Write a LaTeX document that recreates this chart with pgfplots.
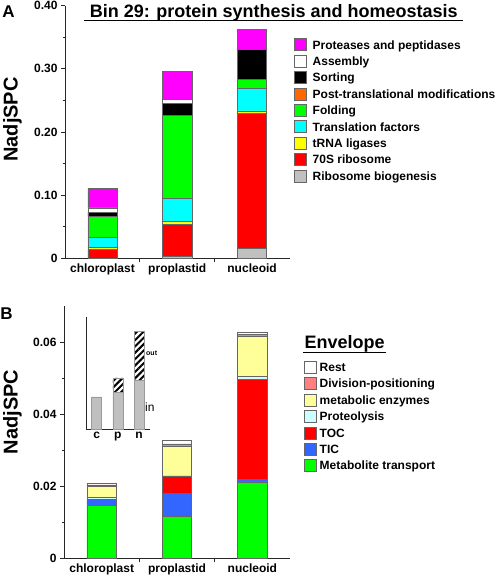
\documentclass[border=0pt]{standalone}
\usepackage{fontspec}
\setmainfont{Liberation Sans}
\usepackage{pgfplots}
\pgfplotsset{compat=1.18}
\usetikzlibrary{patterns.meta}

\definecolor{cMag}{HTML}{FF00FF}
\definecolor{cOra}{HTML}{FF6600}
\definecolor{cGre}{HTML}{00FF00}
\definecolor{cCya}{HTML}{00FFFF}
\definecolor{cYel}{HTML}{FFFF00}
\definecolor{cRed}{HTML}{FF0000}
\definecolor{cGra}{HTML}{C0C0C0}
\definecolor{cSal}{HTML}{FF8080}
\definecolor{cLYe}{HTML}{FFFF99}
\definecolor{cLCy}{HTML}{CCFFFF}
\definecolor{cBlu}{HTML}{3366FF}

% Panel A: columns = x, then stack bottom -> top
\pgfplotstableread{
x bio rib trna tf fold ptm sort asm prot
0 0.0000 0.0147 0.0021 0.0158 0.0334 0.0008 0.0060 0.0072 0.0306
1 0.0030 0.0508 0.0047 0.0364 0.1318 0.0000 0.0186 0.0063 0.0448
2 0.0158 0.2136 0.0041 0.0355 0.0147 0.0000 0.0473 0.0003 0.0313
}\tableA

% Panel B
\pgfplotstableread{
x met tic toc prot enz div rest
0 0.0148 0.0015 0.0000 0.0006 0.0031 0.0004 0.0004
1 0.0116 0.0064 0.0049 0.0000 0.0081 0.0008 0.0010
2 0.0212 0.0007 0.0278 0.0009 0.0110 0.0005 0.0007
}\tableB

% Inset
\pgfplotstableread{
x in out
0 0.0208 0.0000
1 0.0234 0.0095
2 0.0315 0.0313
}\tableC

\pgfplotsset{
  panel/.style={
    scale only axis, anchor=south west,
    xmin=-0.5, xmax=2.5, ymin=0,
    scaled y ticks=false,
    axis x line*=bottom, axis y line*=left,
    axis line style={-, line width=1pt, black!85},
    ybar stacked, bar width=0.39,
    xtick={0.5,1.5}, xticklabels={},
    extra x ticks={0,1,2},
    extra x tick labels={chloroplast,proplastid,nucleoid},
    extra x tick style={major tick length=0pt},
    tick align=outside, major tick length=4pt, minor tick length=2.5pt,
    tick style={black!85, line width=0.8pt},
    minor y tick num=1,
    ticklabel style={font=\bfseries\fontsize{12}{14}\selectfont},
    xticklabel style={yshift=-2pt},
    every axis plot/.append style={draw=black!60, line width=0.5pt},
    legend image code/.code={\draw[#1,draw=black!60,line width=0.5pt] (0pt,-6pt) rectangle (12pt,6pt);},
    reverse legend,
    legend cell align=left,
  },
}

\begin{document}
\begin{tikzpicture}
\useasboundingbox (0,0) rectangle (498pt,577pt);

% ---------------- Panel A ----------------
\begin{axis}[panel,
  at={(65pt,318.7pt)}, width=224.5pt, height=252.6pt,
  ymax=0.40,
  ytick={0,0.1,0.2,0.3,0.4},
  yticklabels={0,0.10,0.20,0.30,0.40},
  legend style={at={(1.02,0.871)}, anchor=north west, draw=none, fill=none,
    inner sep=0pt, row sep=3.9pt, column sep=6pt,
    font=\bfseries\fontsize{12}{14}\selectfont,
    nodes={inner sep=0pt, text height=8.6pt, text depth=0pt}},
]
\addplot[fill=cGra] table[x=x,y=bio] {\tableA};
\addplot[fill=cRed] table[x=x,y=rib] {\tableA};
\addplot[fill=cYel] table[x=x,y=trna] {\tableA};
\addplot[fill=cCya] table[x=x,y=tf] {\tableA};
\addplot[fill=cGre] table[x=x,y=fold] {\tableA};
\addplot[fill=cOra] table[x=x,y=ptm] {\tableA};
\addplot[fill=black] table[x=x,y=sort] {\tableA};
\addplot[fill=white] table[x=x,y=asm] {\tableA};
\addplot[fill=cMag] table[x=x,y=prot] {\tableA};
\legend{Ribosome biogenesis,70S ribosome,tRNA ligases,Translation factors,Folding,Post-translational modifications,Sorting,Assembly,Proteases and peptidases}
\end{axis}

% ---------------- Panel B ----------------
\begin{axis}[panel,
  at={(64pt,18.7pt)}, width=226pt, height=252pt,
  ymax=0.07,
  ytick={0,0.02,0.04,0.06},
  yticklabels={0,0.02,0.04,0.06},
  legend style={at={(1.062,0.784)}, anchor=north west, draw=none, fill=none,
    inner sep=0pt, row sep=3.9pt, column sep=3pt,
    font=\bfseries\fontsize{12}{14}\selectfont,
    nodes={inner sep=0pt, text height=8.6pt, text depth=0pt}},
]
\addplot[fill=cGre] table[x=x,y=met] {\tableB};
\addplot[fill=cBlu] table[x=x,y=tic] {\tableB};
\addplot[fill=cRed] table[x=x,y=toc] {\tableB};
\addplot[fill=cLCy] table[x=x,y=prot] {\tableB};
\addplot[fill=cLYe] table[x=x,y=enz] {\tableB};
\addplot[fill=cSal] table[x=x,y=div] {\tableB};
\addplot[fill=white] table[x=x,y=rest] {\tableB};
\legend{Metabolite transport,TIC,TOC,Proteolysis,metabolic enzymes,Division-positioning,Rest}
\end{axis}

% ---------------- Inset ----------------
\begin{axis}[
  scale only axis, anchor=south west, clip=false,
  at={(86pt,147.7pt)}, width=63.6pt, height=112.6pt,
  xmin=-0.5, xmax=2.5, ymin=0, ymax=0.072,
  axis x line*=bottom, axis y line*=left,
  axis line style={-, line width=1pt, black!85},
  ybar stacked, bar width=0.47,
  xtick={0,1,2}, xticklabels={c,p,n},
  major tick length=0pt, ytick=\empty,
  xticklabel style={font=\bfseries\fontsize{12}{14}\selectfont, yshift=1pt},
]
\addplot[fill=cGra, draw=gray!80, line width=0.5pt] table[x=x,y=in] {\tableC};
\addplot[pattern={Lines[angle=45,distance=4.5pt,line width=2pt]}, pattern color=black, draw=gray!80, line width=0.5pt] table[x=x,y=out] {\tableC};
\node[anchor=west, font=\fontsize{12}{14}\selectfont, inner sep=0pt] at (axis cs:2.28,0.0144) {in};
\node[anchor=west, font=\bfseries\fontsize{7}{8}\selectfont, inner sep=0pt] at (axis cs:2.33,0.0487) {out};
\end{axis}

% ---------------- Texts ----------------
\node[font=\bfseries\fontsize{17}{20}\selectfont] at (8.5pt,565pt) {A};
\node[font=\bfseries\fontsize{17}{20}\selectfont] at (6.5pt,263.5pt) {B};
\node[rotate=90, font=\bfseries\fontsize{20}{24}\selectfont] at (12.5pt,457.5pt) {NadjSPC};
\node[rotate=90, font=\bfseries\fontsize{20}{24}\selectfont] at (12.5pt,165pt) {NadjSPC};
\node[anchor=base, inner sep=0pt, font=\bfseries\fontsize{18}{22}\selectfont] at (273.7pt,559pt) {Bin 29: protein synthesis and homeostasis};
\draw[line width=1.3pt] (84pt,556.3pt) -- (463.3pt,556.3pt);
\node[anchor=base, inner sep=0pt, font=\bfseries\fontsize{18}{22}\selectfont] at (344.7pt,228pt) {Envelope};
\draw[line width=1.3pt] (303.3pt,224.7pt) -- (386pt,224.7pt);
\end{tikzpicture}
\end{document}
